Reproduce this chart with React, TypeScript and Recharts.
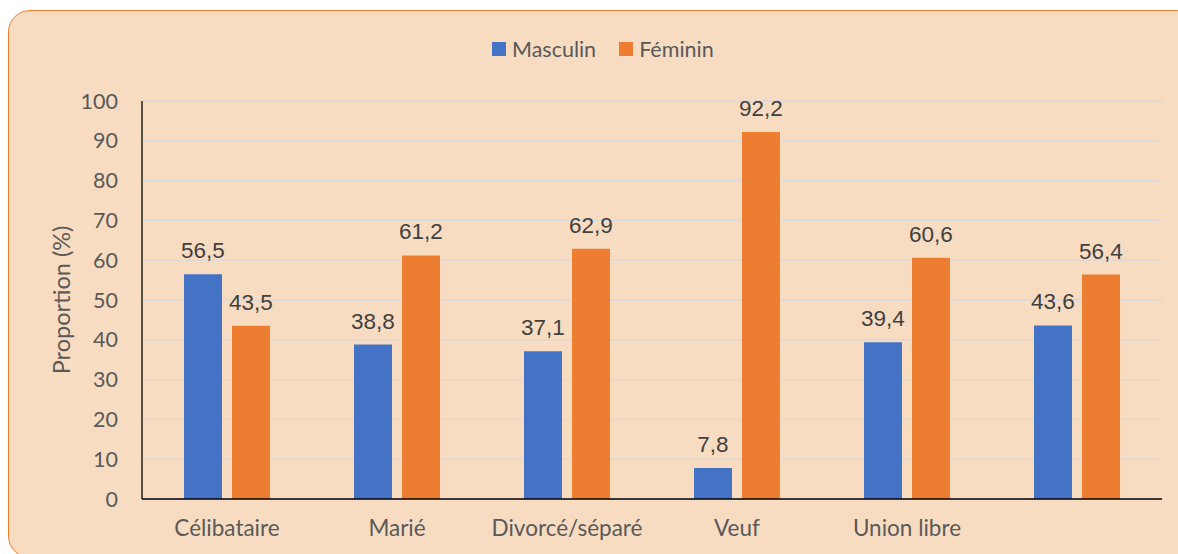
import React from 'react';
import { BarChart, Bar, XAxis, YAxis, CartesianGrid, LabelList, Legend } from 'recharts';

const categories = ['Célibataire', 'Marié', 'Divorcé/séparé', 'Veuf', 'Union libre', ''];
const masculin = [56.5, 38.8, 37.1, 7.8, 39.4, 43.6];
const feminin = [43.5, 61.2, 62.9, 92.2, 60.6, 56.4];
const yTicks = [0, 10, 20, 30, 40, 50, 60, 70, 80, 90, 100];

const data = categories.map((c, i) => ({ name: c, Masculin: masculin[i], Féminin: feminin[i] }));

const BLUE = '#4472C4';
const ORANGE = '#ED7D31';
const TXT = '#595959';
const AXIS_FONT = 'Lato, "Open Sans", sans-serif';
const LABEL_FONT = '"Liberation Sans", Arial, sans-serif';

const fmt = (v: any) => (typeof v === 'number' ? v.toFixed(1).replace('.', ',') : v);

const LegendContent = () => (
  <div style={{ display: 'flex', alignItems: 'center', fontFamily: AXIS_FONT, fontSize: 21.5, color: TXT, whiteSpace: 'nowrap' }}>
    <span style={{ width: 14, height: 14, background: BLUE, display: 'inline-block', marginRight: 6 }} />
    <span style={{ marginRight: 23 }}>Masculin</span>
    <span style={{ width: 14, height: 14, background: ORANGE, display: 'inline-block', marginRight: 6 }} />
    <span>Féminin</span>
  </div>
);

const YLabel = (props: any) => {
  const vb = props.viewBox || { x: 80, y: 101, width: 62, height: 398 };
  const cx = vb.x - 19;
  const cy = vb.y + vb.height / 2;
  return (
    <text
      x={cx}
      y={cy}
      transform={`rotate(-90 ${cx} ${cy})`}
      textAnchor="middle"
      dominantBaseline="central"
      fill={TXT}
      fontFamily={AXIS_FONT}
      fontSize={23.5}
    >
      Proportion (%)
    </text>
  );
};

export default function App() {
  return (
    <div style={{ position: 'absolute', left: 0, top: 0, width: 1178, height: 554, overflow: 'hidden', background: '#ffffff' }}>
      <div
        style={{
          position: 'absolute',
          left: 8,
          top: 10,
          width: 1190,
          height: 548,
          boxSizing: 'border-box',
          border: `1.5px solid ${ORANGE}`,
          borderRadius: 22,
          background: '#F8DCC1',
        }}
      />
      <div style={{ position: 'absolute', left: 0, top: 0 }}>
        <BarChart
          width={1178}
          height={554}
          data={data}
          margin={{ top: 101, right: 16, bottom: 25, left: 80 }}
          barSize={38}
          barGap={10}
        >
          <CartesianGrid vertical={false} stroke="#D9D9D9" strokeWidth={1.3} />
          <XAxis
            dataKey="name"
            height={30}
            tickLine={false}
            tickSize={0}
            tickMargin={21}
            axisLine={{ stroke: '#000000', strokeWidth: 1.3 }}
            tick={{ fill: TXT, fontSize: 22.5, fontFamily: AXIS_FONT }}
            interval={0}
          />
          <YAxis
            width={62}
            domain={[0, 100]}
            ticks={yTicks}
            interval={0}
            tickLine={false}
            tickSize={0}
            tickMargin={24}
            axisLine={{ stroke: '#000000', strokeWidth: 1.3 }}
            tick={{ fill: TXT, fontSize: 21.5, fontFamily: AXIS_FONT }}
            label={<YLabel />}
          />
          <Legend
            verticalAlign="middle"
            align="center"
            layout="horizontal"
            content={<LegendContent />}
            wrapperStyle={{ top: 36, left: 492, width: 300, height: 26 }}
          />
          <Bar dataKey="Masculin" fill={BLUE} isAnimationActive={false}>
            <LabelList dataKey="Masculin" position="top" offset={16} formatter={fmt} fill="#404040" fontSize={22.5} fontFamily={LABEL_FONT} />
          </Bar>
          <Bar dataKey="Féminin" fill={ORANGE} isAnimationActive={false}>
            <LabelList dataKey="Féminin" position="top" offset={16} formatter={fmt} fill="#404040" fontSize={22.5} fontFamily={LABEL_FONT} />
          </Bar>
        </BarChart>
      </div>
    </div>
  );
}
